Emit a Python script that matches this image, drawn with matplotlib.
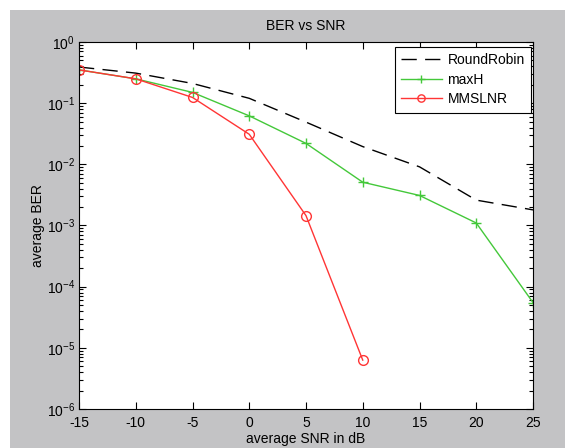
import matplotlib
matplotlib.use("Agg")
import matplotlib.pyplot as plt
from matplotlib.patches import Rectangle
from matplotlib.ticker import LogLocator, NullFormatter, FixedLocator

plt.rcParams["font.family"] = ["Liberation Sans", "DejaVu Sans"]
plt.rcParams["mathtext.default"] = "regular"
plt.rcParams["axes.unicode_minus"] = False

snr = [-15, -10, -5, 0, 5, 10, 15, 20, 25]
ber_roundrobin = [0.39, 0.31, 0.21, 0.12, 0.049, 0.0195, 0.0091, 0.0026, 0.0018]
ber_maxh = [0.35, 0.25, 0.15, 0.062, 0.022, 0.0051, 0.0031, 0.0011, 5.5e-5]
snr_mmslnr = [-15, -10, -5, 0, 5, 10]
ber_mmslnr = [0.35, 0.25, 0.124, 0.031, 0.00145, 6.3e-6]

W, H = 565, 448
fig = plt.figure(figsize=(W / 100, H / 100), dpi=100, facecolor="white")
# gray figure area (white strip on top and left like the screenshot)
fig.patches.append(Rectangle((10 / W, 0), 1 - 10 / W, 1 - 10 / H,
                             transform=fig.transFigure, facecolor="#c3c3c5",
                             edgecolor="none", zorder=-10))

ax = fig.add_axes([79 / W, (H - 409) / H, (533 - 79) / W, (409 - 42) / H])
ax.set_facecolor("white")

ax.semilogy(snr, ber_roundrobin, color="black", linestyle=(0, (11, 6)),
            linewidth=1.0, label="RoundRobin")
ax.semilogy(snr, ber_maxh, color="#44c83a", linestyle="-", linewidth=1.0,
            marker="+", markersize=7, markeredgewidth=1.0, label="maxH")
ax.semilogy(snr_mmslnr, ber_mmslnr, color="#ff3535", linestyle="-",
            linewidth=1.0, marker="o", markersize=7, markerfacecolor="none",
            markeredgewidth=1.0, label="MMSLNR")

ax.set_xlim(-15, 25)
ax.set_ylim(1e-6, 1e0)
ax.xaxis.set_major_locator(FixedLocator(snr))
ax.yaxis.set_major_locator(LogLocator(base=10, numticks=10))
ax.yaxis.set_minor_locator(LogLocator(base=10, subs=range(2, 10), numticks=20))
ax.yaxis.set_minor_formatter(NullFormatter())

ax.tick_params(which="both", direction="in", top=True, right=True,
               labelsize=10, colors="black", width=0.8)
ax.tick_params(which="major", length=5, pad=3)
ax.tick_params(axis="x", which="major", pad=5)
ax.tick_params(which="minor", length=3)
for s in ax.spines.values():
    s.set_linewidth(0.8)

ax.set_title("BER vs SNR", fontsize=10, pad=9)
ax.set_xlabel("average SNR in dB", fontsize=10, labelpad=1.5)
ax.set_ylabel("average BER", fontsize=10, labelpad=1)

leg = ax.legend(loc="upper right", bbox_to_anchor=(531 / W, (H - 47) / H),
                bbox_transform=fig.transFigure, fontsize=10, fancybox=False,
                framealpha=1, edgecolor="black", handlelength=2.95,
                handletextpad=0.4, borderpad=0.45, labelspacing=0.4,
                borderaxespad=0, markerscale=0.75)
leg.get_frame().set_linewidth(0.8)

fig.savefig("out.png", dpi=100, facecolor=fig.get_facecolor())
